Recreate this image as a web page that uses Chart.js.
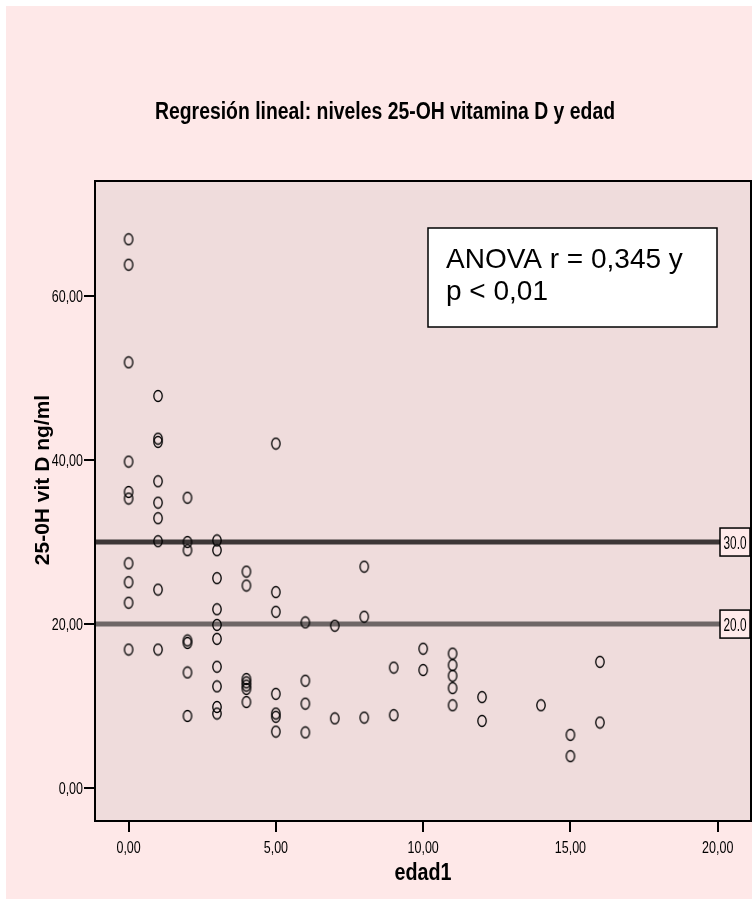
<!DOCTYPE html>
<html>
<head>
<meta charset="utf-8">
<script src="https://cdn.jsdelivr.net/npm/chart.js@4.4.1/dist/chart.umd.min.js"></script>
<style>
  body { margin: 0; background: #fff; }
  canvas { display: block; }
</style>
</head>
<body>
<canvas id="scatter" width="756" height="905"></canvas>
<script>
// data
const edad = [
  0, 0, 0, 0, 0, 0, 0, 0, 0, 0,
  1, 1, 1, 1, 1, 1, 1, 1, 1,
  2, 2, 2, 2, 2, 2, 2,
  3, 3, 3, 3, 3, 3, 3, 3, 3, 3,
  4, 4, 4, 4, 4, 4, 4,
  5, 5, 5, 5, 5, 5, 5,
  6, 6, 6, 6,
  7, 7,
  8, 8, 8,
  9, 9,
  10, 10,
  11, 11, 11, 11, 11,
  12, 12,
  14,
  15, 15,
  16, 16
];
const vitD = [
  66.9, 63.8, 51.9, 39.8, 36.1, 35.3, 27.4, 25.1, 22.6, 16.9,
  47.8, 42.6, 42.2, 37.4, 34.8, 32.9, 30.1, 24.2, 16.9,
  35.4, 30.0, 29.0, 18.0, 17.7, 14.1, 8.8,
  30.2, 29.0, 25.6, 21.8, 19.9, 18.2, 14.8, 12.4, 9.9, 9.1,
  26.4, 24.7, 13.3, 12.9, 12.5, 12.1, 10.5,
  42.0, 23.9, 21.5, 11.5, 9.1, 8.7, 6.9,
  20.2, 13.1, 10.3, 6.8,
  19.8, 8.5,
  27.0, 20.9, 8.6,
  14.7, 8.9,
  17.0, 14.4,
  16.4, 15.0, 13.7, 12.2, 10.1,
  11.1, 8.2,
  10.1,
  6.5, 3.9,
  15.4, 8.0
];
const refLevels = [30, 20];
const refColors = ['#3d3737', '#6e6666'];
const xTicks = [0, 5, 10, 15, 20];
const yTicks = [0, 20, 40, 60];
const xRange = [-1.14, 21.13];
const yRange = [-4, 74];

const titleText = 'Regresión lineal: niveles 25-OH vitamina D y edad';
const xTitle = 'edad1';
const yTitle = '25-0H vit D ng/ml';
const noteLines = ['ANOVA r = 0,345 y', 'p < 0,01'];

const SANS = '"Liberation Sans", Arial, sans-serif';

// hollow elliptical marker like SPSS
function makeMarker() {
  const c = document.createElement('canvas');
  c.width = 12; c.height = 14;
  const g = c.getContext('2d');
  g.strokeStyle = '#000';
  g.lineWidth = 1.3;
  g.beginPath();
  g.ellipse(6, 7, 4.2, 5.5, 0, 0, Math.PI * 2);
  g.stroke();
  return c;
}

const fmt = v => v.toFixed(2).replace('.', ',');

// no narrow font installed, so squeeze Liberation Sans horizontally
function narrowText(ctx, text, x, y, font, sx, align) {
  ctx.save();
  ctx.font = font;
  ctx.textAlign = align;
  ctx.translate(x, y);
  ctx.scale(sx, 1);
  ctx.fillText(text, 0, 0);
  ctx.restore();
}

const decor = {
  id: 'decor',
  beforeDraw(chart) {
    const { ctx, chartArea: a } = chart;
    ctx.save();
    ctx.fillStyle = '#ffffff';
    ctx.fillRect(0, 0, chart.width, chart.height);
    ctx.fillStyle = '#fee8e8';
    ctx.fillRect(6, 6, 746, 893);
    ctx.fillStyle = '#efdcdc';
    ctx.fillRect(a.left, a.top, a.right - a.left, a.bottom - a.top);
    ctx.restore();
  },
  afterDraw(chart) {
    const { ctx, chartArea: a, scales } = chart;
    ctx.save();
    // plot frame
    ctx.strokeStyle = '#000';
    ctx.lineWidth = 2;
    ctx.strokeRect(a.left, a.top, a.right - a.left, a.bottom - a.top);

    ctx.fillStyle = '#000';
    ctx.textBaseline = 'alphabetic';
    // tick labels
    yTicks.forEach(v => {
      narrowText(ctx, fmt(v), 83, scales.y.getPixelForValue(v) + 6, '16px ' + SANS, 0.78, 'right');
    });
    xTicks.forEach(v => {
      narrowText(ctx, fmt(v), scales.x.getPixelForValue(v), 853, '16px ' + SANS, 0.78, 'center');
    });

    // reference line labels
    refLevels.forEach(v => {
      const y = scales.y.getPixelForValue(v);
      ctx.fillStyle = '#ffeaea';
      ctx.fillRect(a.right - 31, y - 14, 30, 28);
      ctx.strokeStyle = '#000';
      ctx.lineWidth = 1.5;
      ctx.strokeRect(a.right - 31, y - 14, 30, 28);
      ctx.fillStyle = '#000';
      narrowText(ctx, v.toFixed(1), a.right - 16, y + 7, '19px ' + SANS, 0.62, 'center');
    });

    // ANOVA note box
    ctx.fillStyle = '#ffffff';
    ctx.fillRect(428, 228, 289, 99);
    ctx.strokeStyle = '#000';
    ctx.lineWidth = 1.5;
    ctx.strokeRect(428, 228, 289, 99);
    ctx.fillStyle = '#000';
    ctx.textAlign = 'left';
    ctx.font = '28px ' + SANS;
    ctx.fillText(noteLines[0], 446, 268);
    ctx.fillText(noteLines[1], 446, 300);

    // titles
    ctx.font = 'bold 23px ' + SANS;
    const tw = ctx.measureText(titleText).width;
    narrowText(ctx, titleText, 385, 119, 'bold 23px ' + SANS, 460 / tw, 'center');
    ctx.font = 'bold 23px ' + SANS;
    const xw = ctx.measureText(xTitle).width;
    narrowText(ctx, xTitle, 423, 880, 'bold 23px ' + SANS, 57 / xw, 'center');
    ctx.translate(43, 480);
    ctx.rotate(-Math.PI / 2);
    ctx.textAlign = 'center';
    ctx.textBaseline = 'middle';
    ctx.font = 'bold 21px ' + SANS;
    ctx.fillText(yTitle, 0, 0);
    ctx.restore();
  }
};

const refDatasets = refLevels.map((v, i) => ({
  type: 'line',
  data: [{ x: xRange[0], y: v }, { x: xRange[1], y: v }],
  borderColor: refColors[i],
  borderWidth: 5,
  pointRadius: 0,
  order: 2,
}));

const ctx = document.getElementById('scatter').getContext('2d');
const chart = new Chart(ctx, {
  type: 'scatter',
  data: {
    datasets: [{
      data: edad.map((x, i) => ({ x, y: vitD[i] })),
      pointStyle: makeMarker(),
      order: 1,
    }, ...refDatasets],
  },
  options: {
    responsive: false,
    animation: false,
    devicePixelRatio: 1,
    layout: { padding: { left: 0, top: 181, right: 4, bottom: 0 } },
    plugins: { legend: { display: false }, tooltip: { enabled: false } },
    scales: {
      x: {
        type: 'linear',
        min: xRange[0],
        max: xRange[1],
        afterBuildTicks: s => { s.ticks = xTicks.map(value => ({ value })); },
        afterFit: s => { s.height = 84; },
        grid: { drawOnChartArea: false, tickLength: 11, color: '#000', lineWidth: 2 },
        border: { display: false },
        ticks: { display: false },
      },
      y: {
        type: 'linear',
        min: yRange[0],
        max: yRange[1],
        afterBuildTicks: s => { s.ticks = yTicks.map(value => ({ value })); },
        afterFit: s => { s.width = 95; },
        grid: { drawOnChartArea: false, tickLength: 11, color: '#000', lineWidth: 2 },
        border: { display: false },
        ticks: { display: false },
      },
    },
  },
  plugins: [decor],
});
</script>
</body>
</html>
